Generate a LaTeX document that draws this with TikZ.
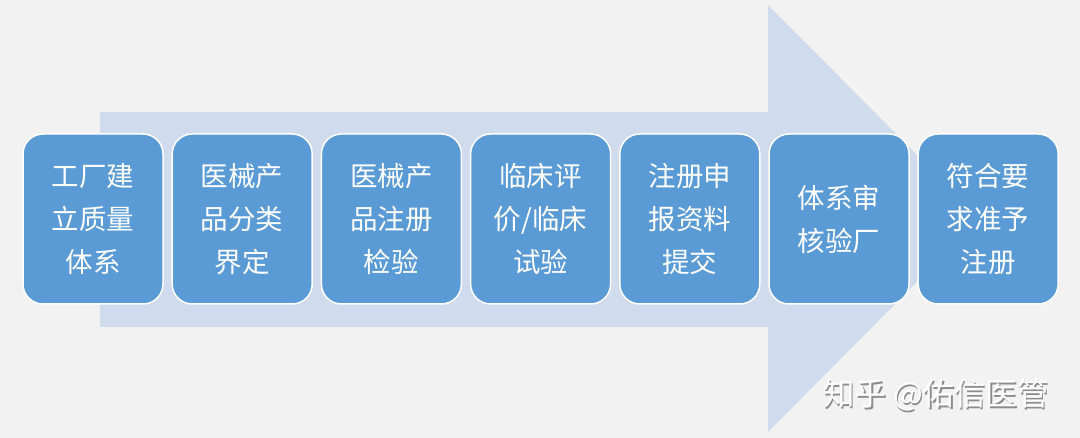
\documentclass[tikz,border=0pt]{standalone}
\usepackage{fontspec}
\newfontfamily\cjk{Noto Sans CJK SC}
\definecolor{bg}{HTML}{F2F2F2}
\definecolor{arrowc}{HTML}{D0DBEE}
\definecolor{boxc}{HTML}{5B9BD5}
\tikzset{
  stepbox/.style={draw=white, line width=1.5pt, fill=boxc, rounded corners=20pt,
    minimum width=140pt, minimum height=170pt, inner sep=0pt, text=white,
    align=center, font=\cjk\fontsize{27.5}{43}\selectfont},
  wm/.style={font=\cjk\fontsize{31.5}{34}\selectfont, inner sep=0pt}
}
\begin{document}
\begin{tikzpicture}[x=1pt,y=-1pt]
\fill[bg] (0,0) rectangle (1080,438);
\useasboundingbox (0,0) rectangle (1080,438);
\fill[arrowc] (100,112) -- (768,112) -- (768,5) -- (980,218.5) -- (768,432) -- (768,327) -- (100,327) -- cycle;
\node[stepbox] (s1) at (93,219) {工厂建\\立质量\\体系};
\node[stepbox] (s2) at (242.2,219) {医械产\\品分类\\界定};
\node[stepbox] (s3) at (391.4,219) {医械产\\品注册\\检验};
\node[stepbox] (s4) at (540.6,219) {临床评\\价/临床\\试验};
\node[stepbox] (s5) at (689.8,219) {注册申\\报资料\\提交};
\node[stepbox] (s6) at (839,219) {体系审\\核验厂};
\node[stepbox] (s7) at (988.2,219) {符合要\\求准予\\注册};
\node[wm, text=black!45] (wms) at (937.5,396.5) {知乎 @佑信医管};
\node[wm, text=white] (wm) at (936,395) {知乎 @佑信医管};
\end{tikzpicture}
\end{document}
